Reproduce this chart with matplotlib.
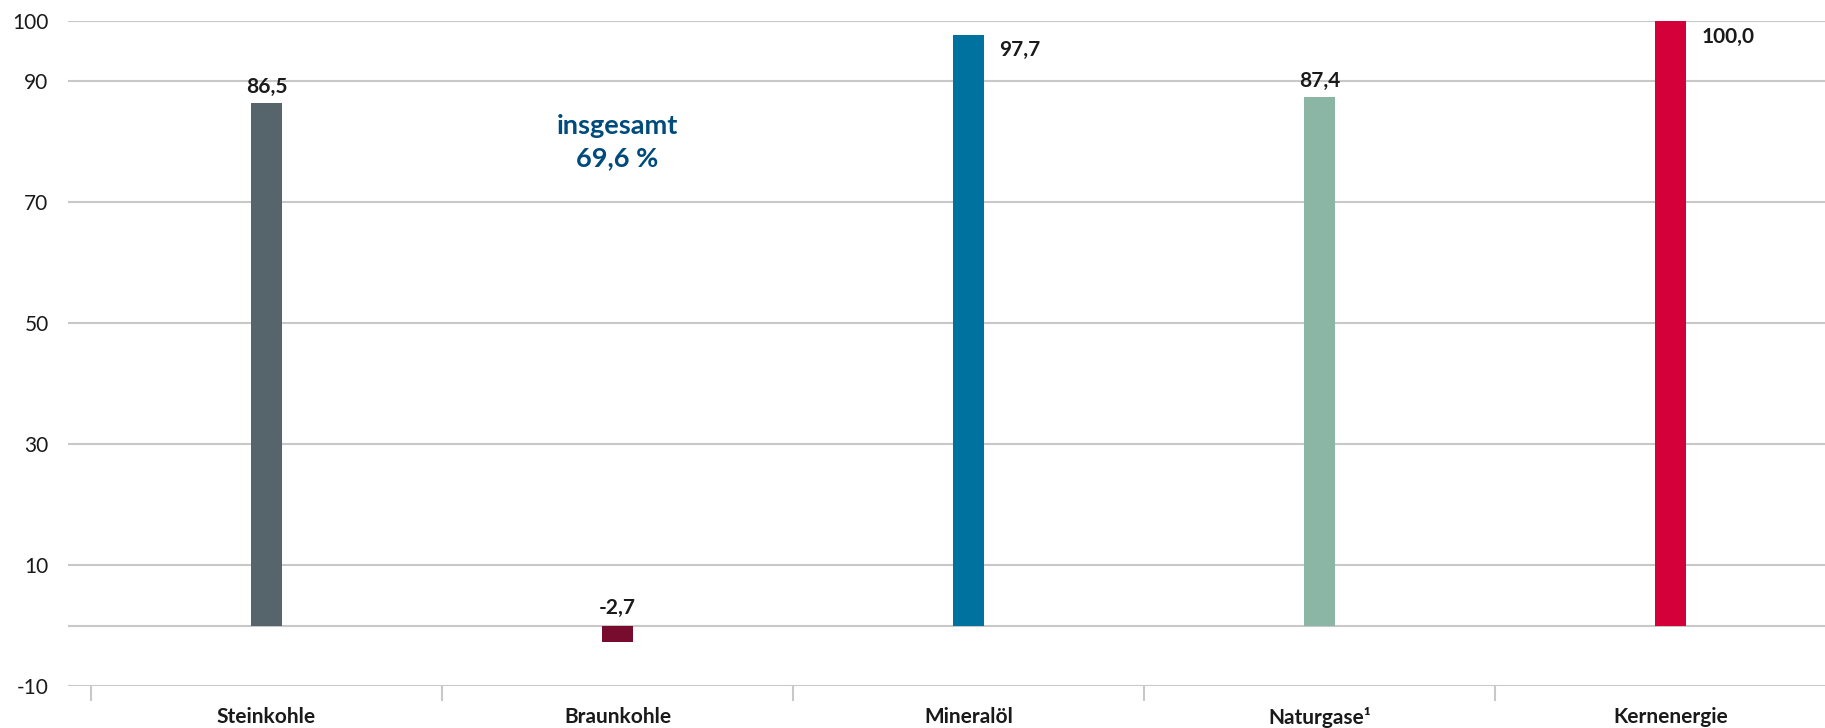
import matplotlib
matplotlib.use("Agg")
import matplotlib.pyplot as plt
from matplotlib.ticker import FixedLocator

plt.rcParams['font.family'] = ['Lato', 'DejaVu Sans']

categories = ['Steinkohle', 'Braunkohle', 'Mineralöl', 'Naturgase¹', 'Kernenergie']
values = [86.5, -2.7, 97.7, 87.4, 100.0]
value_labels = ['86,5', '-2,7', '97,7', '87,4', '100,0']
colors = ['#56656b', '#780c2e', '#0072a0', '#8bb5a5', '#d4003a']
grid_values = [-10, 0, 10, 30, 50, 70, 90, 100]
tick_labels = ['-10', '', '10', '30', '50', '70', '90', '100']
total_text = 'insgesamt\n69,6 %'
total_value = 80

fig = plt.figure(figsize=(18.25, 7.28), dpi=100)
ax = fig.add_axes([68 / 1825, 1 - 686 / 728, 1 - 68 / 1825, (686 - 21) / 728])

x = list(range(len(categories)))
ax.bar(x, values, width=0.088, color=colors, zorder=3)

for g in grid_values:
    ax.axhline(g, color='#c8c8c8', linewidth=1.5, zorder=1)

ax.set_ylim(-10, 100)
ax.set_xlim(-0.5 - 23 / 351, -0.5 + (1825 - 91) / 351)

ax.set_yticks(grid_values)
ax.set_yticklabels(tick_labels, fontsize=15, color='#1a1a1a')
ax.tick_params(axis='y', length=0, pad=14)

ax.set_xticks(x)
ax.set_xticklabels(categories, fontsize=15, fontweight='bold', color='#1a1a1a')
ax.tick_params(axis='x', which='major', length=0, pad=15)
ax.xaxis.set_minor_locator(FixedLocator([i - 0.5 for i in range(len(categories))]))
ax.tick_params(axis='x', which='minor', length=11, width=1.5, color='#c8c8c8')

for s in ax.spines.values():
    s.set_visible(False)

# Werte-Beschriftung
for i, (v, lab) in enumerate(zip(values, value_labels)):
    if v > 95:
        ax.annotate(lab, (i + 0.044, v), xytext=(11, -4), textcoords='offset points',
                    ha='left', va='top', fontsize=15, fontweight='bold', color='#1a1a1a')
    elif v < 0:
        ax.annotate(lab, (i, 0), xytext=(0, 8), textcoords='offset points',
                    ha='center', va='baseline', fontsize=15, fontweight='bold', color='#1a1a1a')
    else:
        ax.annotate(lab, (i, v), xytext=(0, 7), textcoords='offset points',
                    ha='center', va='baseline', fontsize=15, fontweight='bold', color='#1a1a1a')

ax.text(1, total_value, total_text, ha='center', va='center', fontsize=19.5,
        fontweight='bold', color='#004b7c', linespacing=1.4)

fig.savefig('out.png', dpi=100)
